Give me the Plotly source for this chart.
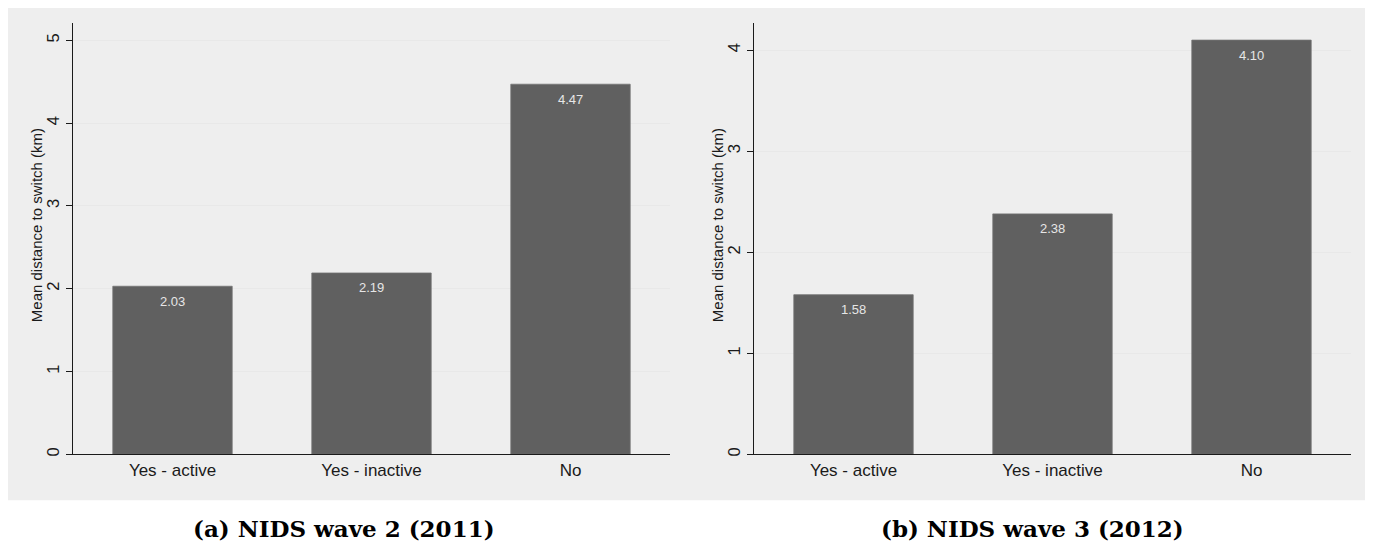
import plotly.graph_objects as go

categories = ["Yes - active", "Yes - inactive", "No"]
wave2_values = [2.03, 2.19, 4.47]
wave3_values = [1.58, 2.38, 4.10]
wave2_ticks = [0, 1, 2, 3, 4, 5]
wave3_ticks = [0, 1, 2, 3, 4]
captions = ["(a) NIDS wave 2 (2011)", "(b) NIDS wave 3 (2012)"]
y_title = "Mean distance to switch (km)"

# page has an 8px body margin; work in page pixel coords and convert
OFF = 8
W, H = 1373 - 2 * OFF, 549 - 2 * OFF
def px_x(p): return (p - OFF) / W
def px_y(p): return 1 - (p - OFF) / H

SANS = "Liberation Sans, Arial, sans-serif"
BAR = "#606060"

fig = go.Figure()
panels = [(wave2_values, "x", "y"), (wave3_values, "x2", "y2")]
for vals, xa, ya in panels:
    fig.add_trace(go.Bar(
        x=categories, y=vals, xaxis=xa, yaxis=ya,
        marker=dict(color=BAR, line=dict(color="#747474", width=0.8)),
        showlegend=False, width=0.6, hoverinfo="x+y",
    ))
    for c, v in zip(categories, vals):
        fig.add_annotation(
            x=c, y=v, xref=xa, yref=ya, text=f"{v:.2f}", showarrow=False,
            yanchor="middle", yshift=-15,
            font=dict(family=SANS, size=13, color="#e6e6e6"),
        )

axis_font = dict(family=SANS, size=16.5, color="#1a1a1a")

common_x = dict(
    type="category", range=[-0.5, 2.5], showgrid=False, zeroline=False,
    showline=True, linecolor="#1a1a1a", linewidth=1.3, ticks="",
    tickfont=dict(family=SANS, size=17, color="#1a1a1a"), fixedrange=True,
)
common_y = dict(
    showgrid=True, gridcolor="#e8e8e8", gridwidth=1, zeroline=False,
    showline=True, linecolor="#1a1a1a", linewidth=1.3, ticks="outside",
    ticklen=6, tickcolor="#1a1a1a", tickwidth=1.3, tickangle=-90,
    tickfont=axis_font, fixedrange=True,
)

ybot, ytop = px_y(456), px_y(23)
fig.update_layout(
    width=W, height=H,
    margin=dict(l=0, r=0, t=0, b=0),
    paper_bgcolor="white", plot_bgcolor="white",
    bargap=0.4,
    xaxis=dict(domain=[px_x(73), px_x(670)], anchor="y", **common_x),
    yaxis=dict(domain=[ybot, ytop], anchor="x", range=[0, 5.21], tickvals=wave2_ticks, **common_y),
    xaxis2=dict(domain=[px_x(754), px_x(1351)], anchor="y2", **common_x),
    yaxis2=dict(domain=[ybot, ytop], anchor="x2", range=[0, 4.27], tickvals=wave3_ticks, **common_y),
    shapes=[dict(type="rect", xref="paper", yref="paper",
                 x0=0, x1=1, y0=px_y(502), y1=1,
                 fillcolor="#eeeeee", line=dict(width=0), layer="below")],
)

# y-axis titles
for tx in [36, 717]:
    fig.add_annotation(
        text=y_title, xref="paper", yref="paper", x=px_x(tx), y=px_y(226),
        xanchor="center", yanchor="middle", textangle=-90, showarrow=False,
        font=dict(family=SANS, size=15, color="#1a1a1a"),
    )

for cap, cx in zip(captions, [344, 1032]):
    fig.add_annotation(
        text=f"<b>{cap}</b>", xref="paper", yref="paper",
        x=px_x(cx), y=px_y(530), xanchor="center", yanchor="middle",
        showarrow=False,
        font=dict(family="DejaVu Serif, Liberation Serif, serif", size=23, color="black"),
    )

fig.write_html("out.html")
